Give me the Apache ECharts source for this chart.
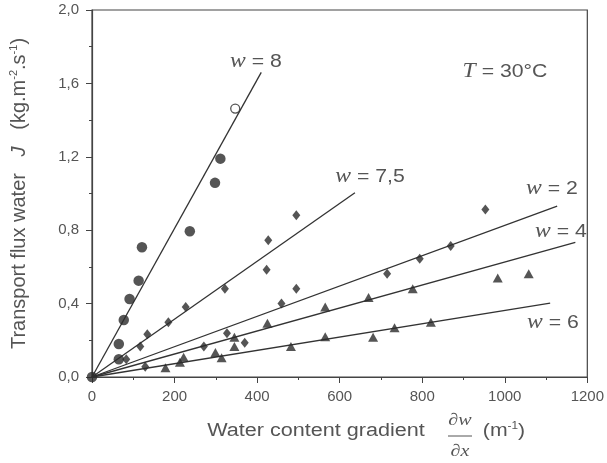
<!DOCTYPE html>
<html><head><meta charset="utf-8">
<script src="https://cdn.jsdelivr.net/npm/echarts@6/dist/echarts.min.js"></script>
<style>html,body{margin:0;padding:0;background:#fff}#c{width:607px;height:463px}</style>
</head><body><div id="c"></div>
<script>
// Data
var circlesW8 = [[0,0],[65,0.097],[65,0.18],[77,0.311],[91,0.425],[113,0.525],[121,0.707],[237,0.794],[298,1.058],[311,1.19]];
var openCircleW8 = [[347,1.463]];
var diamonds = [[83,0.097],[117,0.166],[134,0.233],[185,0.298],[227,0.381],[322,0.481],[423,0.585],[427,0.745],[495,0.881],[495,0.481],[459,0.40],[327,0.239],[370,0.187],[271,0.166],[129,0.056],[715,0.563],[794,0.645],[869,0.714],[953,0.913]];
var triangles = [[178,0.051],[213,0.080],[222,0.108],[299,0.133],[314,0.105],[345,0.166],[345,0.217],[425,0.293],[482,0.166],[565,0.381],[565,0.22],[670,0.433],[777,0.481],[983,0.539],[1058,0.563],[681,0.217],[733,0.269],[821,0.299]];
var lineW8 = [[0,0],[410,1.66]];
var lineW75 = [[0,0],[637,1.004]];
var lineW2 = [[0,0],[1127,0.931]];
var lineW4 = [[0,0],[1171,0.734]];
var lineW6 = [[0,0],[1110,0.403]];
var xTicks = [0,200,400,600,800,1000,1200];
var yTicks = ['0,0','0,4','0,8','1,2','1,6','2,0'];

var chart = echarts.init(document.getElementById('c'));
var txt = '#555';
var ink = '#2a2a2a';
var SX = 1.18;
function lineSeries(d){return {type:'line',data:d,symbol:'none',lineStyle:{color:'#333',width:1.3},silent:true,z:2};}
function wLabel(x,y,val){
  return {type:'text',x:x,y:y,scaleX:SX,style:{text:'{i|w} = '+val,align:'center',verticalAlign:'middle',fill:txt,
    font:'18px Liberation Sans',rich:{i:{fontFamily:'Liberation Serif',fontStyle:'italic',fontSize:20,fill:txt}}}};
}
chart.setOption({
  animation:false,
  grid:{left:92,right:15,top:10,bottom:86,show:true,borderColor:'#444',borderWidth:1.2},
  xAxis:{type:'value',min:0,max:1200,interval:200,
    axisLine:{lineStyle:{color:'#444',width:1.2}},
    axisTick:{show:true,inside:false,length:6,lineStyle:{color:'#444'}},
    minorTick:{show:true,splitNumber:2,length:3,lineStyle:{color:'#444'}},
    splitLine:{show:false},
    axisLabel:{color:txt,fontSize:15,fontFamily:'Liberation Sans',margin:12,
      formatter:function(v){return xTicks.indexOf(v)>=0?String(v):'';}}},
  yAxis:{type:'value',min:0,max:2,interval:0.4,
    axisLine:{lineStyle:{color:'#444',width:1.2}},
    axisTick:{show:true,inside:false,length:6,lineStyle:{color:'#444'}},
    minorTick:{show:true,splitNumber:2,length:3,lineStyle:{color:'#444'}},
    splitLine:{show:false},
    axisLabel:{color:txt,fontSize:15,fontFamily:'Liberation Sans',margin:13,
      formatter:function(v){var i=Math.round(v/0.4);return yTicks[i]||'';}},
    name:'Transport flux water   {j|J}   (kg.m{s|-2}.s{s|-1})',
    nameLocation:'middle',nameGap:62,
    nameTextStyle:{color:txt,fontSize:20,fontFamily:'Liberation Sans',
      rich:{j:{fontFamily:'Liberation Sans',fontStyle:'italic',fontSize:20,color:txt},
            s:{fontSize:11,color:txt,verticalAlign:'top',lineHeight:22}}}},
  series:[
    lineSeries(lineW8),lineSeries(lineW75),lineSeries(lineW2),lineSeries(lineW4),lineSeries(lineW6),
    {type:'scatter',data:circlesW8,symbol:'circle',symbolSize:10.5,itemStyle:{color:ink},z:3},
    {type:'scatter',data:openCircleW8,symbol:'circle',symbolSize:9,itemStyle:{color:'#fff',borderColor:ink,borderWidth:1.3},z:3},
    {type:'scatter',data:diamonds,symbol:'diamond',symbolSize:[8,10],itemStyle:{color:ink},z:3},
    {type:'scatter',data:triangles,symbol:'triangle',symbolSize:[10,9],itemStyle:{color:ink},z:3}
  ],
  graphic:[
    wLabel(256,62,'8'),
    wLabel(370,177,'7,5'),
    wLabel(552,189,'2'),
    wLabel(561,232,'4'),
    wLabel(553,323,'6'),
    {type:'text',x:505,y:72,scaleX:SX,style:{text:'{i|T} = 30°C',align:'center',verticalAlign:'middle',fill:txt,
      font:'18px Liberation Sans',rich:{i:{fontFamily:'Liberation Serif',fontStyle:'italic',fontSize:20,fill:txt}}}},
    {type:'text',x:316,y:431,scaleX:1.2,style:{text:'Water content gradient',align:'center',verticalAlign:'middle',fill:txt,font:'18px Liberation Sans'}},
    {type:'text',x:460,y:421,scaleX:SX,style:{text:'∂w',align:'center',verticalAlign:'middle',fill:txt,font:'italic 17px Liberation Serif'}},
    {type:'line',shape:{x1:448,y1:436,x2:472,y2:436},style:{stroke:txt,lineWidth:1}},
    {type:'text',x:460,y:452,scaleX:SX,style:{text:'∂x',align:'center',verticalAlign:'middle',fill:txt,font:'italic 17px Liberation Serif'}},
    {type:'text',x:504,y:431,scaleX:SX,style:{text:'(m{s|-1})',align:'center',verticalAlign:'middle',fill:txt,font:'18px Liberation Sans',
      rich:{s:{fontSize:10,fill:txt,verticalAlign:'top',lineHeight:20}}}}
  ]
});
</script></body></html>
